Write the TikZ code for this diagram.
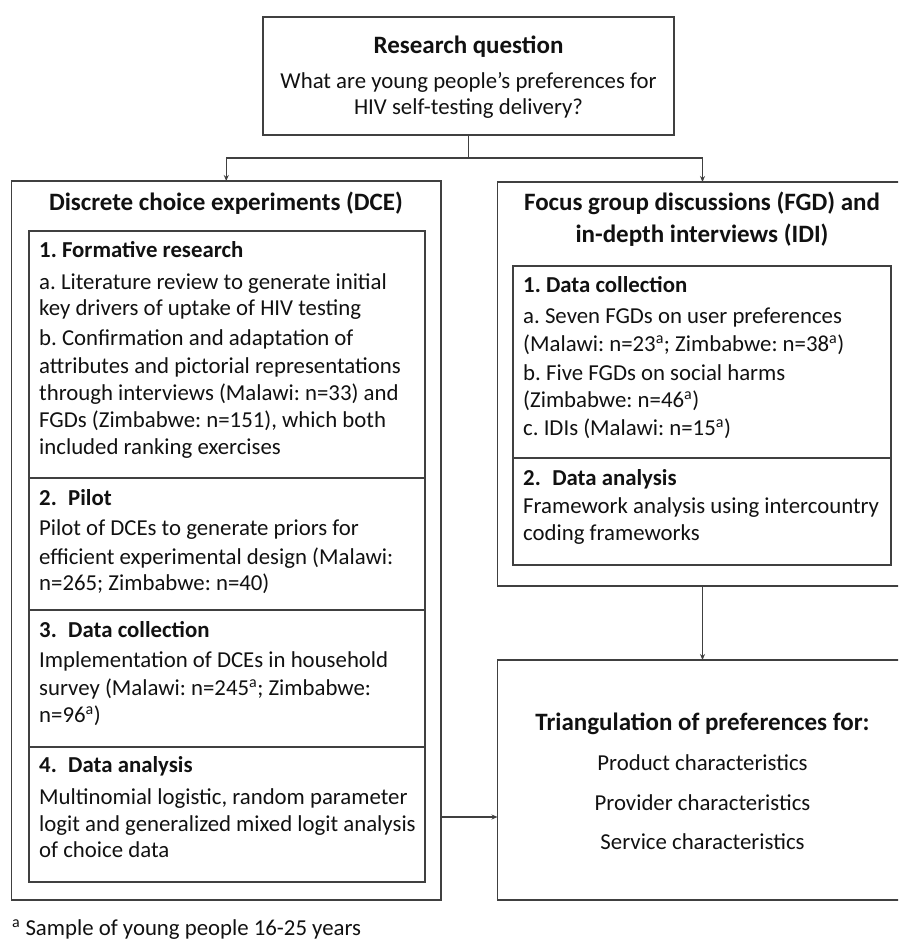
\documentclass[tikz,border=0pt]{standalone}
\usepackage{fontspec}
\setmainfont{Carlito}
\usetikzlibrary{arrows.meta,calc}
\definecolor{lc}{HTML}{404040}
\definecolor{tc}{HTML}{111111}
\frenchspacing
\tikzset{
  frame/.style={draw=lc,line width=1.6pt,inner sep=0pt,outer sep=0pt},
  sec/.style={draw=lc,line width=1.4pt,inner sep=0pt,outer sep=0pt},
  txt/.style={inner sep=0pt,text=tc,font=\fontsize{22.8}{27}\selectfont},
  shd/.style={inner sep=0pt,text=tc,font=\fontsize{22.8}{27}\selectfont\bfseries},
  hd/.style={inner sep=0pt,text=tc,font=\fontsize{25}{29}\selectfont\bfseries},
  conn/.style={draw=lc,line width=1.2pt},
  arr/.style={conn,-{Stealth[length=6pt,width=5pt]}}
}
\newcommand\TLine[4]{\node[txt,anchor=base west] (#1) at (#2,#3) {#4};}
\newcommand\SLine[4]{\node[shd,anchor=base west] (#1) at (#2,#3) {#4};}
\newcommand\TCtr[4]{\node[txt,anchor=base] (#1) at (#2,#3) {#4};}
\newcommand\HCtr[4]{\node[hd,anchor=base] (#1) at (#2,#3) {#4};}
\newcommand\sa{\textsuperscript{a}}
\begin{document}
\begin{tikzpicture}[x=1pt,y=-1pt]
\useasboundingbox (0,0) rectangle (898,939);
\clip (0,0) rectangle (898,939);
% boxes
\node[frame,minimum width=411pt,minimum height=118pt] (rq) at (468.5,76) {};
\node[frame,minimum width=429.5pt,minimum height=719pt] (dce) at (226.25,540.5) {};
\node[frame,minimum width=410pt,minimum height=404pt] (fgd) at (702.5,384) {};
\node[frame,minimum width=410pt,minimum height=240pt] (tri) at (702.5,780) {};
% DCE sections
\node[sec,minimum width=396pt,minimum height=247pt] (d1) at (227,354.5) {};
\node[sec,minimum width=396pt,minimum height=132pt] (d2) at (227,544) {};
\node[sec,minimum width=396pt,minimum height=137pt] (d3) at (227,678.5) {};
\node[sec,minimum width=396pt,minimum height=135pt] (d4) at (227,814.5) {};
% FGD sections
\node[sec,minimum width=378pt,minimum height=192pt] (f1) at (702,362) {};
\node[sec,minimum width=378pt,minimum height=107pt] (f2) at (702,511.5) {};
% research question
\HCtr{rqt}{468.5}{54}{Research question}
\TCtr{rq1}{468.5}{89}{What are young people’s preferences for}
\TCtr{rq2}{468.5}{115}{HIV self-testing delivery?}
% DCE
\HCtr{dceh}{226}{210}{Discrete choice experiments (DCE)}
\SLine{d1t}{39}{257}{1. Formative research}
\TLine{d1a}{39}{289}{a. Literature review to generate initial}
\TLine{d1b}{39}{315}{key drivers of uptake of HIV testing}
\TLine{d1c}{39}{345}{b. Confirmation and adaptation of}
\TLine{d1d}{39}{373}{attributes and pictorial representations}
\TLine{d1e}{39}{400}{through interviews (Malawi: n=33) and}
\TLine{d1f}{39}{427}{FGDs (Zimbabwe: n=151), which both}
\TLine{d1g}{39}{454}{included ranking exercises}
\SLine{d2t}{39}{505}{2.\enspace Pilot}
\TLine{d2a}{39}{535}{Pilot of DCEs to generate priors for}
\TLine{d2b}{39}{564}{efficient experimental design (Malawi:}
\TLine{d2c}{39}{590}{n=265; Zimbabwe: n=40)}
\SLine{d3t}{39}{637}{3.\enspace Data collection}
\TLine{d3a}{39}{667}{Implementation of DCEs in household}
\TLine{d3b}{39}{695}{survey (Malawi: n=245\sa; Zimbabwe:}
\TLine{d3c}{39}{722}{n=96\sa)}
\SLine{d4t}{39}{772}{4.\enspace Data analysis}
\TLine{d4a}{39}{804}{Multinomial logistic, random parameter}
\TLine{d4b}{39}{831}{logit and generalized mixed logit analysis}
\TLine{d4c}{39}{857}{of choice data}
% FGD
\HCtr{fh1}{702}{210}{Focus group discussions (FGD) and}
\HCtr{fh2}{702}{242}{in-depth interviews (IDI)}
\SLine{f1t}{523}{292}{1. Data collection}
\TLine{f1a}{523}{323}{a. Seven FGDs on user preferences}
\TLine{f1b}{523}{351}{(Malawi: n=23\sa; Zimbabwe: n=38\sa)}
\TLine{f1c}{523}{380}{b. Five FGDs on social harms}
\TLine{f1d}{523}{407}{(Zimbabwe: n=46\sa)}
\TLine{f1e}{523}{435}{c. IDIs (Malawi: n=15\sa)}
\SLine{f2t}{523}{485}{2.\enspace Data analysis}
\TLine{f2a}{523}{513}{Framework analysis using intercountry}
\TLine{f2b}{523}{540}{coding frameworks}
% triangulation
\HCtr{trt}{702.5}{730}{Triangulation of preferences for:}
\TCtr{tr1}{702.5}{770}{Product characteristics}
\TCtr{tr2}{702.5}{810}{Provider characteristics}
\TCtr{tr3}{702.5}{849}{Service characteristics}
% footnote
\TLine{fn}{12}{935}{\sa\ Sample of young people 16-25 years}
% connectors
\coordinate (j) at (468.5,158);
\coordinate (h) at (0,817);
\draw[conn] (rq.south) -- (j);
\draw[arr] (j) -| (dce.north);
\draw[arr] (j) -| (fgd.north);
\draw[arr] (fgd.south) -- (tri.north);
\draw[arr] (dce.east |- h) -- (tri.west |- h);
\end{tikzpicture}
\end{document}
